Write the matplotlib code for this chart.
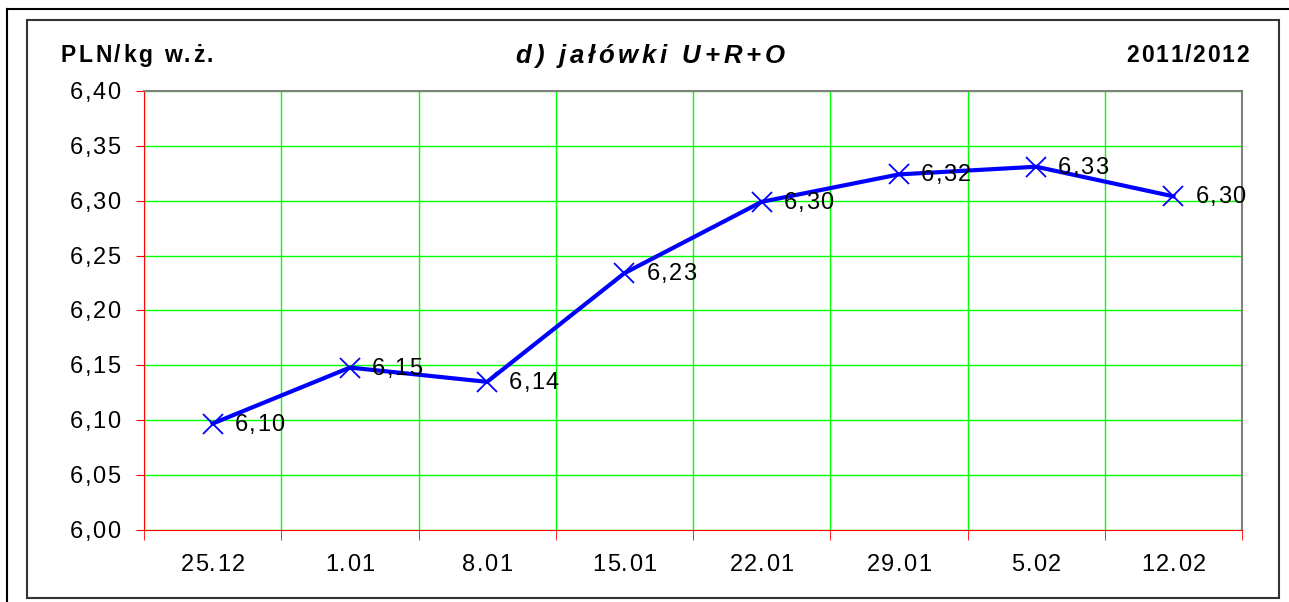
import matplotlib.pyplot as plt
from matplotlib import font_manager, ft2font
from matplotlib.lines import Line2D
from matplotlib.patches import Rectangle
import numpy as np

plt.rcParams['font.family'] = ['Liberation Sans', 'DejaVu Sans']

# data
dates = ['25.12', '1.01', '8.01', '15.01', '22.01', '29.01', '5.02', '12.02']
prices = [6.097, 6.148, 6.135, 6.234, 6.299, 6.324, 6.331, 6.304]
price_labels = ['6,10', '6,15', '6,14', '6,23', '6,30', '6,32', '6,33', '6,30']
y_ticks = [6.00, 6.05, 6.10, 6.15, 6.20, 6.25, 6.30, 6.35, 6.40]

W, H = 1289, 602
DPI = 100
fig = plt.figure(figsize=(W / DPI, H / DPI), dpi=DPI)


def tracked_text(x, y, s, size, track, ha='left', weight='normal', style='normal'):
    """Draw text char by char with extra letter spacing (Excel-like look).
    x, y in pixels from the top-left; y is the baseline."""
    prop = font_manager.FontProperties(family='Liberation Sans', size=size,
                                       weight=weight, style=style)
    font = ft2font.FT2Font(font_manager.findfont(prop))
    font.set_size(size, DPI)
    adv = [font.load_char(ord(ch)).linearHoriAdvance / 65536 for ch in s]
    total = sum(adv) + track * (len(s) - 1)
    if ha == 'center':
        x -= total / 2
    elif ha == 'right':
        x -= total
    for ch, a in zip(s, adv):
        fig.text(x / W, 1 - y / H, ch, fontproperties=prop, ha='left', va='baseline')
        x += a + track


# outer and inner frames
fig.add_artist(Line2D([7 / W, 7 / W], [0, 1 - 9 / H], color='black', lw=1.5, transform=fig.transFigure))
fig.add_artist(Line2D([7 / W, 1], [1 - 9 / H, 1 - 9 / H], color='black', lw=1.5, transform=fig.transFigure))
fig.add_artist(Rectangle((27 / W, 1 - 598 / H), (1279 - 27) / W, (598 - 20) / H,
                         fill=False, ec='#333333', lw=1.5, transform=fig.transFigure))

left, right, top, bottom = 144, 1242, 91, 530
ax = fig.add_axes([left / W, 1 - bottom / H, (right - left) / W, (bottom - top) / H])

x = np.arange(len(dates))
ax.plot(x, prices, color='#0000ff', lw=3, marker='x', ms=15, mew=1.3, zorder=3)

ax.set_xlim(-0.5, len(dates) - 0.5)
ax.set_ylim(6.0, 6.4)
ax.set_yticks(y_ticks)
ax.set_yticklabels([])
ax.set_xticks(x)
ax.set_xticklabels([])
ax.set_xticks(np.arange(-0.5, len(dates), 1), minor=True)
ax.tick_params(axis='x', which='major', length=0)
ax.tick_params(axis='x', which='minor', length=7, color='#ff0000', direction='out')
ax.tick_params(axis='y', length=6, color='#ff0000')

ax.grid(True, axis='y', color='#00ff00', lw=1)
ax.grid(True, axis='x', which='minor', color='#00ff00', lw=1)
ax.set_axisbelow(True)
for s in ['left', 'bottom']:
    ax.spines[s].set_color('#ff0000')
for s in ['top', 'right']:
    ax.spines[s].set_color('#808080')
    ax.spines[s].set_linewidth(1.5)


def to_px(xv, yv):
    px, py = ax.transData.transform((xv, yv))
    return px, H - py


# tick labels
for v in y_ticks:
    _, py = to_px(0, v)
    tracked_text(120, py + 8, f'{v:.2f}'.replace('.', ','), 17, 1.3, ha='right')
for xi, lab in zip(x, dates):
    px, _ = to_px(xi, 6.0)
    tracked_text(px, 571, lab, 17, 1.3, ha='center')

# point labels
for xi, yi, lab in zip(x, prices, price_labels):
    px, py = to_px(xi, yi)
    tracked_text(px + 22, py + 7, lab, 17, 1.3)

# header texts
tracked_text(61, 62, 'PLN/kg w.ż.', 16.5, 2.5, weight='bold')
tracked_text(650, 63, 'd) jałówki U+R+O', 18.5, 3.8, ha='center', weight='bold', style='italic')
tracked_text(1249, 62, '2011/2012', 16.5, 1.8, ha='right', weight='bold')

fig.savefig('out.png', dpi=DPI)
